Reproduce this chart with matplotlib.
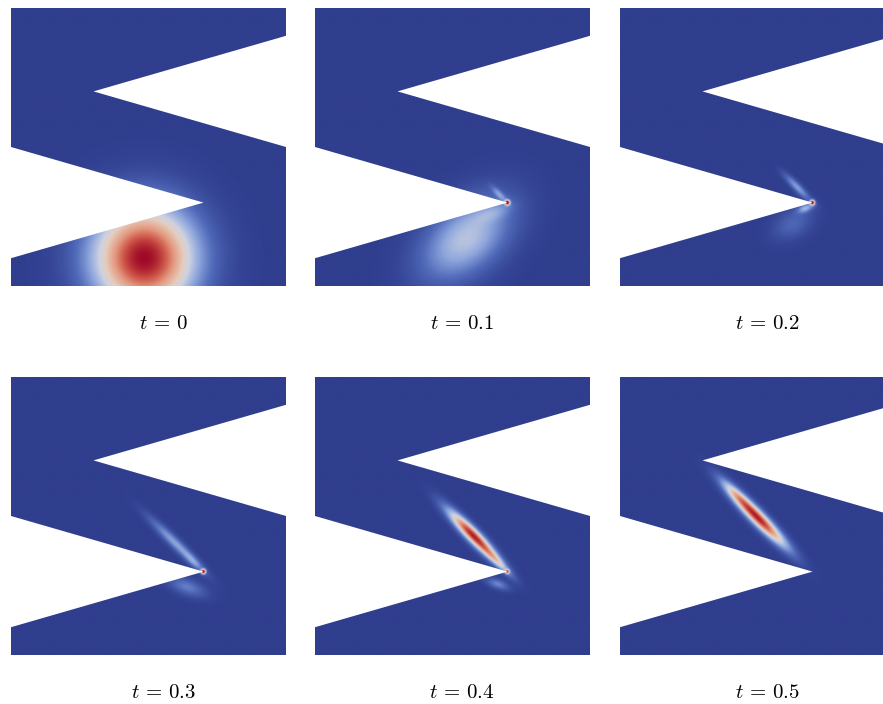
import numpy as np
import matplotlib
matplotlib.use("Agg")
import matplotlib.pyplot as plt
from matplotlib.colors import LinearSegmentedColormap
from matplotlib.patches import Polygon

plt.rcParams['mathtext.fontset'] = 'cm'

# time labels of the six snapshots
times = ['0', '0.1', '0.2', '0.3', '0.4', '0.5']

# zig-zag domain outline (x, y in unit square, y up)
dom_x = [0.0, 1.0, 1.0, 0.3, 1.0, 1.0, 0.0, 0.0, 0.7, 0.0]
dom_y = [0.0, 0.0, 0.5, 0.7, 0.9, 1.0, 1.0, 0.5, 0.3, 0.1]

# blobs: panel, centre, widths, angle, peak
blob_panel = [0,
              1, 1, 1, 1,
              2, 2, 2, 2,
              3, 3, 3, 3,
              4, 4, 4, 4,
              5, 5]
blob_cx = [0.485,
           0.55, 0.65, 0.67, 0.70,
           0.63, 0.675, 0.645, 0.70,
           0.60, 0.665, 0.64, 0.70,
           0.575, 0.665, 0.665, 0.70,
           0.50, 0.42]
blob_cy = [0.10,
           0.17, 0.265, 0.33, 0.30,
           0.225, 0.28, 0.355, 0.30,
           0.40, 0.335, 0.245, 0.30,
           0.43, 0.335, 0.255, 0.30,
           0.495, 0.58]
blob_sx = [0.13,
           0.13, 0.05, 0.025, 0.006,
           0.055, 0.02, 0.045, 0.006,
           0.09, 0.03, 0.05, 0.006,
           0.085, 0.05, 0.03, 0.005,
           0.10, 0.05]
blob_sy = [0.13,
           0.08, 0.02, 0.008, 0.006,
           0.035, 0.01, 0.01, 0.006,
           0.013, 0.01, 0.02, 0.006,
           0.016, 0.01, 0.012, 0.005,
           0.017, 0.012]
blob_ang = [0,
            40, 20, 135, 0,
            30, 20, 135, 0,
            136, 136, 160, 0,
            135, 135, 160, 0,
            135, 135]
blob_amp = [1.0,
            0.40, 0.12, 0.2, 1.0,
            0.14, 0.3, 0.28, 1.0,
            0.3, 0.15, 0.2, 1.0,
            0.95, 0.3, 0.22, 0.7,
            0.95, 0.2]

cmap = LinearSegmentedColormap.from_list('bwr_dark', [
    (0.00, (48/255, 62/255, 142/255)),
    (0.15, (80/255, 105/255, 185/255)),
    (0.30, (140/255, 165/255, 220/255)),
    (0.45, (205/255, 210/255, 225/255)),
    (0.55, (228/255, 205/255, 190/255)),
    (0.72, (228/255, 150/255, 125/255)),
    (0.87, (200/255, 75/255, 65/255)),
    (1.00, (160/255, 10/255, 40/255)),
])

W, H = 883, 704
panel_left = [11, 315, 620]
panel_top = [8, 377]
pw, ph = 275, 278
label_x = [163, 462, 767]
label_y = [323, 692]

fig = plt.figure(figsize=(W / 100, H / 100), dpi=100)

gx = np.linspace(0, 1, 600)
X, Y = np.meshgrid(gx, gx)

for k in range(6):
    r, c = divmod(k, 3)
    ax = fig.add_axes([panel_left[c] / W, 1 - (panel_top[r] + ph) / H, pw / W, ph / H])
    Z = np.zeros_like(X)
    for i in range(len(blob_panel)):
        if blob_panel[i] != k:
            continue
        a = np.radians(blob_ang[i])
        dx = X - blob_cx[i]
        dy = Y - blob_cy[i]
        u = dx * np.cos(a) + dy * np.sin(a)
        v = -dx * np.sin(a) + dy * np.cos(a)
        Z += blob_amp[i] * np.exp(-0.5 * ((u / blob_sx[i]) ** 2 + (v / blob_sy[i]) ** 2))
    Z = np.clip(Z, 0, 1)
    im = ax.imshow(Z, extent=[0, 1, 0, 1], origin='lower', cmap=cmap, vmin=0, vmax=1,
                   interpolation='bilinear', aspect='auto')
    poly = Polygon(np.column_stack([dom_x, dom_y]), closed=True, transform=ax.transData)
    im.set_clip_path(poly)
    ax.set_xlim(0, 1)
    ax.set_ylim(0, 1)
    ax.axis('off')
    fig.text(label_x[c] / W, 1 - label_y[r] / H, r'$t\,=\,%s$' % times[k],
             ha='center', va='center', fontsize=15)

fig.savefig('out.png', dpi=100)
